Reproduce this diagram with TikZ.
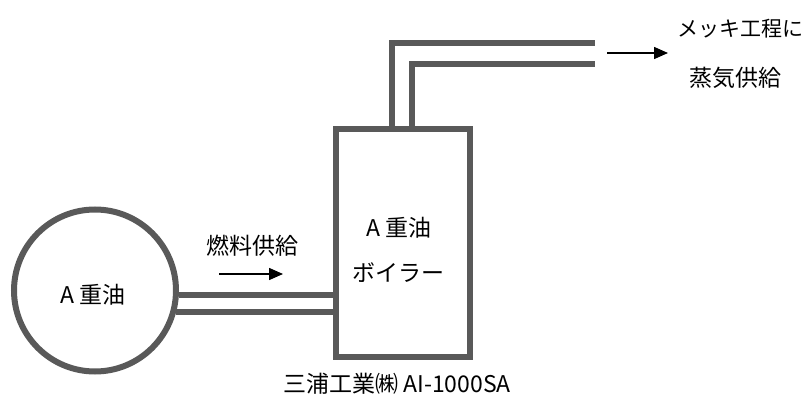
\documentclass[tikz,border=0pt]{standalone}
\usepackage{fontspec}
\setmainfont{Noto Sans CJK JP}
\usetikzlibrary{arrows.meta}
\definecolor{pipegray}{RGB}{89,89,89}
\begin{document}
\begin{tikzpicture}[x=1pt,y=-1pt,
  pipe/.style={draw=pipegray,line width=6pt},
  arr/.style={draw=black,line width=1.5pt,-{Triangle[length=14pt,width=12pt]}},
  lbl/.style={font=\fontsize{23}{27}\selectfont,inner sep=0pt}]
\useasboundingbox (0,0) rectangle (808,403);
% tank
\node[pipe,circle,minimum size=162pt,inner sep=0pt,fill=white] (tank) at (95,290.5) {};
\node[lbl] (tanktxt) at (93,295) {A 重油};
% boiler
\node[pipe,rectangle,minimum width=134pt,minimum height=228pt,inner sep=0pt,fill=white] (boiler) at (403,243) {};
\node[lbl] (b1) at (399,228) {A 重油};
\node[lbl] (b2) at (398,273) {ボイラー};
% fuel pipes
\draw[pipe] (tank.-3.4) -- (tank.-3.4 -| boiler.west);
\draw[pipe] (tank.-15.9) -- (tank.-15.9 -| boiler.west);
% steam pipes
\coordinate (o1) at (392,43);
\coordinate (o2) at (595,43);
\coordinate (i1) at (412,64);
\coordinate (i2) at (595,64);
\draw[pipe] (boiler.north -| o1) -- (o1) -- (o2);
\draw[pipe] (boiler.north -| i1) -- (i1) -- (i2);
% arrows and labels
\coordinate (fa1) at (219,274);
\coordinate (fa2) at (283,274);
\draw[arr] (fa1) -- (fa2);
\node[lbl] (fuel) at (252,246) {燃料供給};
\coordinate (sa1) at (607,53);
\coordinate (sa2) at (668,53);
\draw[arr] (sa1) -- (sa2);
\node[lbl,font=\fontsize{21}{25}\selectfont] (steam1) at (740,29) {メッキ工程に};
\node[lbl] (steam2) at (735,78) {蒸気供給};
\node[lbl] (maker) at (397,384) {三浦工業㈱ AI-1000SA};
\end{tikzpicture}
\end{document}
